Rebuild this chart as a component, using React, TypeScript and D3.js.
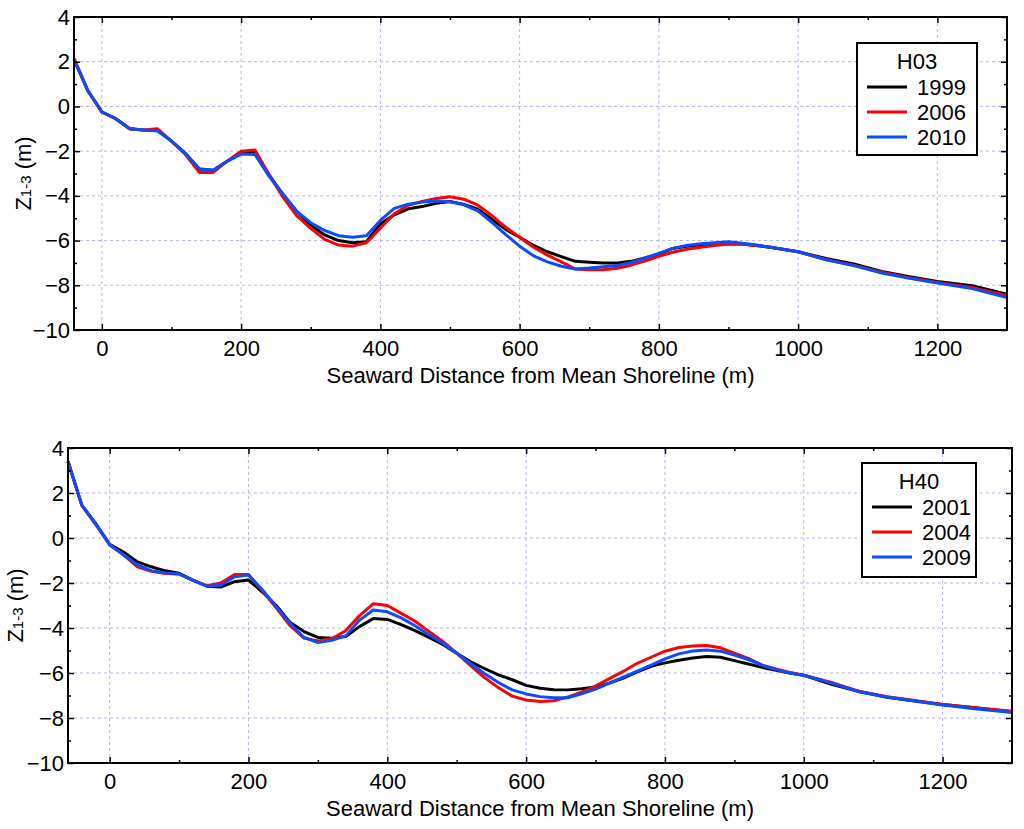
import * as React from "react";
import { useEffect, useRef } from "react";
import * as d3 from "d3";

// H03 profile (upper panel)
const h03Dist = [
  -40, -20, 0, 20, 40, 60, 80, 100, 120, 140, 160, 180, 200, 220, 240, 260, 280, 300, 320, 340,
  360, 380, 400, 420, 440, 460, 480, 500, 520, 540, 560, 580, 600, 620, 640, 660, 680, 700, 720, 740,
  760, 780, 800, 820, 840, 860, 880, 900, 920, 940, 960, 980, 1000, 1040, 1080, 1120, 1160, 1200, 1250, 1300,
];
const h03Z1999 = [
  2.1, 0.7, -0.25, -0.55, -1.0, -1.05, -1.08, -1.55, -2.1, -2.8, -2.85, -2.45, -2.1, -2.05, -3.05, -3.95, -4.7, -5.3, -5.75, -6.0,
  -6.1, -6.05, -5.26, -4.85, -4.58, -4.48, -4.33, -4.25, -4.38, -4.6, -5.05, -5.5, -5.85, -6.22, -6.5, -6.72, -6.93, -6.97, -7.0, -7.0,
  -6.93, -6.78, -6.6, -6.35, -6.25, -6.2, -6.17, -6.13, -6.15, -6.22, -6.3, -6.4, -6.5, -6.8, -7.05, -7.38, -7.62, -7.83, -8.02, -8.4,
];
const h03Z2006 = [
  2.15, 0.7, -0.25, -0.55, -1.0, -1.05, -1.0, -1.55, -2.15, -2.95, -2.95, -2.45, -2.0, -1.95, -3.05, -4.05, -4.9, -5.45, -5.95, -6.2,
  -6.25, -6.1, -5.45, -4.8, -4.42, -4.25, -4.12, -4.04, -4.15, -4.42, -4.88, -5.4, -5.85, -6.3, -6.65, -6.95, -7.27, -7.3, -7.3, -7.24,
  -7.1, -6.92, -6.7, -6.52, -6.39, -6.3, -6.22, -6.15, -6.17, -6.22, -6.3, -6.4, -6.5, -6.85, -7.1, -7.42, -7.66, -7.87, -8.1, -8.47,
];
const h03Z2010 = [
  2.1, 0.7, -0.25, -0.55, -1.0, -1.05, -1.1, -1.55, -2.1, -2.8, -2.85, -2.45, -2.13, -2.15, -3.12, -3.9, -4.7, -5.2, -5.55, -5.78,
  -5.85, -5.78, -5.1, -4.56, -4.37, -4.28, -4.23, -4.26, -4.4, -4.67, -5.18, -5.73, -6.25, -6.68, -6.95, -7.15, -7.27, -7.23, -7.17, -7.12,
  -6.98, -6.78, -6.57, -6.35, -6.22, -6.14, -6.1, -6.05, -6.12, -6.2, -6.3, -6.4, -6.5, -6.86, -7.12, -7.45, -7.69, -7.9, -8.15, -8.55,
];

// H40 profile (lower panel)
const h40Dist = [
  -60, -40, -20, 0, 20, 40, 60, 80, 100, 120, 140, 160, 180, 200, 220, 240, 260, 280, 300, 320,
  340, 360, 380, 400, 420, 440, 460, 480, 500, 520, 540, 560, 580, 600, 620, 640, 660, 680, 700, 720,
  740, 760, 780, 800, 820, 840, 860, 880, 900, 920, 940, 960, 980, 1000, 1040, 1080, 1120, 1160, 1200, 1250, 1300,
];
const h40Z2001 = [
  3.4, 1.45, 0.64, -0.28, -0.62, -1.06, -1.28, -1.46, -1.57, -1.87, -2.14, -2.18, -1.94, -1.87, -2.4, -3.0, -3.75, -4.16, -4.42, -4.45,
  -4.38, -3.94, -3.58, -3.62, -3.85, -4.12, -4.42, -4.73, -5.12, -5.5, -5.8, -6.08, -6.3, -6.55, -6.68, -6.74, -6.75, -6.7, -6.62, -6.45,
  -6.23, -5.95, -5.7, -5.55, -5.43, -5.33, -5.27, -5.3, -5.45, -5.6, -5.75, -5.88, -6.0, -6.1, -6.5, -6.82, -7.08, -7.24, -7.4, -7.55, -7.72,
];
const h40Z2004 = [
  3.4, 1.45, 0.6, -0.3, -0.75, -1.28, -1.48, -1.58, -1.6, -1.88, -2.12, -2.0, -1.62, -1.62, -2.35, -3.1, -3.9, -4.45, -4.58, -4.48,
  -4.12, -3.45, -2.92, -3.0, -3.35, -3.7, -4.15, -4.6, -5.12, -5.67, -6.2, -6.65, -7.03, -7.2, -7.27, -7.23, -7.07, -6.85, -6.58, -6.25,
  -5.93, -5.57, -5.3, -5.03, -4.87, -4.8, -4.78, -4.88, -5.12, -5.35, -5.65, -5.82, -5.98, -6.1, -6.42, -6.82, -7.05, -7.22, -7.4, -7.55, -7.7,
];
const h40Z2009 = [
  3.4, 1.45, 0.62, -0.3, -0.75, -1.2, -1.45, -1.55, -1.6, -1.88, -2.14, -2.1, -1.72, -1.65, -2.3, -3.05, -3.79, -4.42, -4.65, -4.55,
  -4.35, -3.65, -3.2, -3.28, -3.55, -3.9, -4.3, -4.68, -5.12, -5.58, -6.02, -6.42, -6.75, -6.93, -7.05, -7.1, -7.1, -6.93, -6.72, -6.45,
  -6.18, -5.92, -5.65, -5.37, -5.15, -5.02, -4.98, -5.03, -5.2, -5.4, -5.65, -5.85, -6.0, -6.1, -6.45, -6.84, -7.07, -7.24, -7.42, -7.6, -7.76,
];

const h03Years = ["1999", "2006", "2010"];
const h40Years = ["2001", "2004", "2009"];
const seriesColors = ["#000000", "#ff0000", "#0a4dff"];

const xMajorTicks = [0, 200, 400, 600, 800, 1000, 1200];
const xMinorTicks = [100, 300, 500, 700, 900, 1100];
const yMajorTicks = [-10, -8, -6, -4, -2, 0, 2, 4];
const yMinorTicks = [-9, -7, -5, -3, -1, 1, 3];

const FONT = "'Liberation Sans', Arial, sans-serif";

interface PanelSpec {
  title: string;
  years: string[];
  dist: number[];
  series: number[][];
  xMin: number;
  box: { left: number; right: number; top: number; bottom: number };
  legend: { x: number; y: number; w: number; h: number };
  yTitleX: number;
}

const panels: PanelSpec[] = [
  {
    title: "H03",
    years: h03Years,
    dist: h03Dist,
    series: [h03Z1999, h03Z2006, h03Z2010],
    xMin: -40,
    box: { left: 74, right: 1007, top: 17, bottom: 330 },
    legend: { x: 857, y: 43, w: 120, h: 112 },
    yTitleX: 31,
  },
  {
    title: "H40",
    years: h40Years,
    dist: h40Dist,
    series: [h40Z2001, h40Z2004, h40Z2009],
    xMin: -60,
    box: { left: 68, right: 1012, top: 448, bottom: 763 },
    legend: { x: 862, y: 463, w: 114, h: 114 },
    yTitleX: 23,
  },
];

const ProfileChart: React.FC = () => {
  const svgRef = useRef<SVGSVGElement | null>(null);

  useEffect(() => {
    const svg = d3.select(svgRef.current);
    svg.selectAll("*").remove();

    panels.forEach((p) => {
      const { left, right, top, bottom } = p.box;
      const x = d3.scaleLinear().domain([p.xMin, 1300]).range([left, right]);
      const y = d3.scaleLinear().domain([-10, 4]).range([bottom, top]);
      const g = svg.append("g");

      // grid
      g.selectAll(".vgrid")
        .data(xMajorTicks)
        .join("line")
        .attr("x1", (d) => x(d))
        .attr("x2", (d) => x(d))
        .attr("y1", top)
        .attr("y2", bottom)
        .attr("stroke", "#b4b4ff")
        .attr("stroke-width", 1)
        .attr("stroke-dasharray", "3,3");
      g.selectAll(".hgrid")
        .data(yMajorTicks.filter((d) => d > -10 && d < 4))
        .join("line")
        .attr("x1", left)
        .attr("x2", right)
        .attr("y1", (d) => y(d))
        .attr("y2", (d) => y(d))
        .attr("stroke", "#b4b4ff")
        .attr("stroke-width", 1)
        .attr("stroke-dasharray", "3,3");

      // profiles
      const line = d3
        .line<number>()
        .x((_, i) => x(p.dist[i]))
        .y((d) => y(d));
      p.series.forEach((s, i) => {
        g.append("path")
          .datum(s)
          .attr("fill", "none")
          .attr("stroke", seriesColors[i])
          .attr("stroke-width", 3)
          .attr("stroke-linejoin", "round")
          .attr("d", line);
      });

      // axes (inward ticks on all four sides)
      const styleAxis = (sel: d3.Selection<SVGGElement, unknown, null, undefined>) => {
        sel.select(".domain").remove();
        sel.selectAll("line").attr("stroke", "#000").attr("stroke-width", 1.5);
        sel.selectAll("text").attr("fill", "#000");
        sel.attr("font-family", FONT).attr("font-size", 22);
      };

      g.append("g")
        .attr("transform", `translate(0,${bottom})`)
        .call(d3.axisBottom(x).tickValues(xMajorTicks).tickSize(-6).tickPadding(10).tickFormat(d3.format("d")))
        .call(styleAxis);
      g.append("g")
        .attr("transform", `translate(0,${bottom})`)
        .call(d3.axisBottom(x).tickValues(xMinorTicks).tickSize(-3).tickFormat(() => ""))
        .call(styleAxis);
      g.append("g")
        .attr("transform", `translate(0,${top})`)
        .call(d3.axisTop(x).tickValues(xMajorTicks).tickSize(-6).tickFormat(() => ""))
        .call(styleAxis);
      g.append("g")
        .attr("transform", `translate(0,${top})`)
        .call(d3.axisTop(x).tickValues(xMinorTicks).tickSize(-3).tickFormat(() => ""))
        .call(styleAxis);
      g.append("g")
        .attr("transform", `translate(${left},0)`)
        .call(d3.axisLeft(y).tickValues(yMajorTicks).tickSize(-6).tickPadding(4).tickFormat(d3.format("d")))
        .call(styleAxis);
      g.append("g")
        .attr("transform", `translate(${left},0)`)
        .call(d3.axisLeft(y).tickValues(yMinorTicks).tickSize(-3).tickFormat(() => ""))
        .call(styleAxis);
      g.append("g")
        .attr("transform", `translate(${right},0)`)
        .call(d3.axisRight(y).tickValues(yMajorTicks).tickSize(-6).tickFormat(() => ""))
        .call(styleAxis);
      g.append("g")
        .attr("transform", `translate(${right},0)`)
        .call(d3.axisRight(y).tickValues(yMinorTicks).tickSize(-3).tickFormat(() => ""))
        .call(styleAxis);

      // frame
      g.append("rect")
        .attr("x", left)
        .attr("y", top)
        .attr("width", right - left)
        .attr("height", bottom - top)
        .attr("fill", "none")
        .attr("stroke", "#000")
        .attr("stroke-width", 2);

      // axis titles
      g.append("text")
        .attr("x", (left + right) / 2)
        .attr("y", bottom + 53)
        .attr("text-anchor", "middle")
        .attr("font-family", FONT)
        .attr("font-size", 22)
        .text("Seaward Distance from Mean Shoreline (m)");

      const yt = g
        .append("text")
        .attr("transform", `translate(${p.yTitleX},${(top + bottom) / 2}) rotate(-90)`)
        .attr("text-anchor", "middle")
        .attr("font-family", FONT)
        .attr("font-size", 22);
      yt.append("tspan").text("Z");
      yt.append("tspan").attr("font-size", 15).text("1-3");
      yt.append("tspan").text(" (m)");

      // legend
      const lg = g.append("g").attr("transform", `translate(${p.legend.x},${p.legend.y})`);
      lg.append("rect")
        .attr("width", p.legend.w)
        .attr("height", p.legend.h)
        .attr("fill", "#fff")
        .attr("stroke", "#000")
        .attr("stroke-width", 2);
      lg.append("text")
        .attr("x", p.legend.w / 2)
        .attr("y", 26)
        .attr("text-anchor", "middle")
        .attr("font-family", FONT)
        .attr("font-size", 22)
        .text(p.title);
      p.years.forEach((yr, i) => {
        const ly = 44 + i * 25;
        lg.append("line")
          .attr("x1", 10)
          .attr("x2", 50)
          .attr("y1", ly)
          .attr("y2", ly)
          .attr("stroke", seriesColors[i])
          .attr("stroke-width", 3);
        lg.append("text")
          .attr("x", 60)
          .attr("y", ly + 8)
          .attr("font-family", FONT)
          .attr("font-size", 22)
          .text(yr);
      });
    });
  }, []);

  return (
    <svg
      ref={svgRef}
      width={1024}
      height={829}
      style={{ position: "absolute", left: 0, top: 0, background: "#fff" }}
    ></svg>
  );
};

export default function App() {
  return <ProfileChart />;
}
